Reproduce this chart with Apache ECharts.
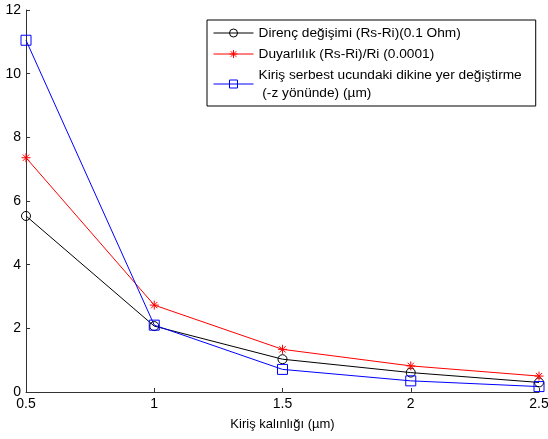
<!DOCTYPE html>
<html>
<head>
<meta charset="utf-8">
<script src="https://cdn.jsdelivr.net/npm/echarts@6/dist/echarts.min.js"></script>
<style>
  html, body { margin: 0; padding: 0; background: #fff; }
  #chart { width: 548px; height: 439px; }
</style>
</head>
<body>
<div id="chart"></div>
<script>
// veriler
const thickness = [0.5, 1, 1.5, 2, 2.5]
const resistance = [5.53, 2.07, 1.03, 0.61, 0.3]
const sensitivity = [7.36, 2.73, 1.34, 0.82, 0.5]
const deflection = [11.05, 2.1, 0.71, 0.35, 0.17]
const seriesNames = [
  'Direnç değişimi (Rs-Ri)(0.1 Ohm)',
  'Duyarlılık (Rs-Ri)/Ri (0.0001)',
  'Kiriş serbest ucundaki dikine yer değiştirme\n (-z yönünde) (µm)'
]
const xLabel = 'Kiriş kalınlığı (µm)'

const font = 'Liberation Sans, Arial, sans-serif'
const asterisk = 'path://M0,-5L0,5M-5,0L5,0M-3.5,-3.5L3.5,3.5M-3.5,3.5L3.5,-3.5'

function pairs(values) {
  return thickness.map((x, i) => [x, values[i]])
}

function lineSeries(name, values, color, symbol, size) {
  return {
    name: name,
    type: 'line',
    data: pairs(values),
    symbol: symbol,
    symbolSize: size,
    lineStyle: { color: color, width: 1 },
    itemStyle: { color: 'rgba(255,255,255,0)', borderColor: color, borderWidth: 1 },
    emphasis: { disabled: true },
    animation: false
  }
}

const myChart = echarts.init(document.getElementById('chart'))
const option = {
  backgroundColor: '#fff',
  textStyle: { fontFamily: font },
  grid: {
    left: 26,
    right: 9,
    top: 10,
    bottom: 47,
    containLabel: false,
    outerBoundsMode: 'none'
  },
  legend: {
    orient: 'vertical',
    left: 207,
    top: 20,
    padding: [4, 14, 4, 6],
    itemGap: 3,
    itemWidth: 40,
    itemHeight: 10,
    borderColor: '#000',
    borderWidth: 1,
    borderRadius: 0,
    backgroundColor: '#fff',
    itemStyle: { borderWidth: 1 },
    lineStyle: { width: 1 },
    textStyle: { fontFamily: font, fontSize: 13.7, color: '#000', lineHeight: 18 },
    data: seriesNames
  },
  xAxis: {
    type: 'value',
    min: 0.5,
    max: 2.5,
    interval: 0.5,
    name: xLabel,
    nameLocation: 'middle',
    nameGap: 26,
    nameTextStyle: { fontFamily: font, fontSize: 13, color: '#000' },
    axisLine: { show: true, lineStyle: { color: '#333', width: 1 } },
    axisTick: { show: true, inside: true, length: 4, lineStyle: { color: '#333' } },
    axisLabel: { fontFamily: font, fontSize: 14, color: '#000', margin: 5 },
    splitLine: { show: false }
  },
  yAxis: {
    type: 'value',
    min: 0,
    max: 12,
    interval: 2,
    axisLine: { show: true, lineStyle: { color: '#333', width: 1 } },
    axisTick: { show: true, inside: true, length: 4, lineStyle: { color: '#333' } },
    axisLabel: { fontFamily: font, fontSize: 14, color: '#000', margin: 5 },
    splitLine: { show: false }
  },
  series: [
    lineSeries(seriesNames[0], resistance, '#000000', 'circle', 9),
    lineSeries(seriesNames[1], sensitivity, '#ff0000', asterisk, 9),
    lineSeries(seriesNames[2], deflection, '#0000ff', 'rect', 10)
  ]
}
myChart.setOption(option)
</script>
</body>
</html>
